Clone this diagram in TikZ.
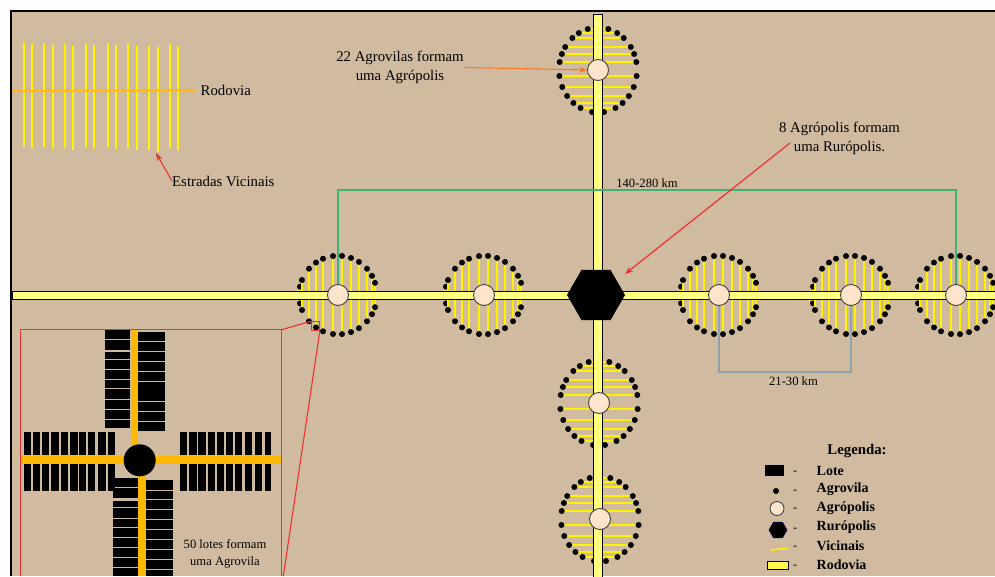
\documentclass[tikz,border=0pt]{standalone}
\usepackage{fontspec}
\setmainfont{Liberation Serif}
\usepackage{tikz}
\usetikzlibrary{arrows.meta,shapes.geometric}
\definecolor{terra}{HTML}{D1BBA0}
\definecolor{pista}{HTML}{FFFF80}
\definecolor{laranja}{HTML}{FFB900}
\definecolor{pele}{HTML}{FFE4CC}
\definecolor{verde}{HTML}{3CB371}
\definecolor{cinza}{HTML}{8FA3AD}
\definecolor{vermelho}{HTML}{F03030}

\begin{document}
\begin{tikzpicture}[
    x=1pt, y=-1pt,
    label/.style={font=\fontsize{14.8}{19}\selectfont, align=center, inner sep=0pt},
    small/.style={font=\fontsize{12.6}{17}\selectfont, align=center, inner sep=0pt},
    legenda/.style={font=\fontsize{14}{17}\selectfont\bfseries, anchor=west, inner sep=0pt},
    agropolis/.style={circle, draw=black!75, line width=0.9pt, fill=pele, minimum size=21, inner sep=0pt},
    ruropolis/.style={regular polygon, regular polygon sides=6, fill=black, inner sep=0pt},
    rodovia/.style={draw=black, line width=1pt, fill=pista},
    vicinal/.style={draw=yellow, line width=1.7pt},
    agrovila/.style={fill=black},
    lote/.style={fill=black},
    acesso/.style={fill=laranja},
    zoomline/.style={draw=vermelho, line width=1.1pt},
    >={Stealth[length=8,width=6]}
  ]
  \useasboundingbox (0,0) rectangle (995,576);
  \fill[white] (0,0) rectangle (995,576);
  \fill[terra] (12,12) rectangle (995,576);
  \draw[black, line width=2pt] (11,576) -- (11,11) -- (995,11);

  % vicinais e agrovilas
  \foreach \cx in {338,484,719,851,956} {
    \foreach \d in {-38,-36,-29,-22,-15,-5,4,13,21,29,34,37} {
      \pgfmathsetmacro\h{38.8*sqrt(1-(\d/38.8)^2)+0.5}
      \draw[vicinal] (\cx+\d,295-\h) -- (\cx+\d,295+\h);
      \fill[agrovila] (\cx+\d,295-\h) circle (3);
      \fill[agrovila] (\cx+\d,295+\h) circle (3);
    }
  }
  \foreach \cx/\cy in {598/70,599/403,600/519} {
    \foreach \d in {-41,-37,-32,-23,-16,-8,6,17,26,33,38,42} {
      \pgfmathsetmacro\h{39*sqrt(1-(\d/42.5)^2)}
      \draw[vicinal] (\cx-\h,\cy+\d) -- (\cx+\h,\cy+\d);
      \fill[agrovila] (\cx-\h,\cy+\d) circle (3);
      \fill[agrovila] (\cx+\h,\cy+\d) circle (3);
    }
  }

  % rodovias
  \draw[rodovia] (12,291) rectangle (995,299.5);
  \draw[rodovia] (593.5,14.5) rectangle (602.5,580);
  \fill[pista] (594,291.5) rectangle (602,299);

  \node[ruropolis, minimum size=58] (rur) at (596,295) {};
  \node[agropolis] (apA) at (338,295) {};
  \node[agropolis] (apB) at (484,295) {};
  \node[agropolis] (apC) at (719,295) {};
  \node[agropolis] (apD) at (851,295) {};
  \node[agropolis] (apE) at (956,295) {};
  \node[agropolis] (apTop) at (598,70) {};
  \node[agropolis] (apF) at (599,403) {};
  \node[agropolis] (apG) at (600,519) {};

  % distancias
  \coordinate (topoVerde) at (650,190);
  \coordinate (baseCinza) at (785,372);
  \draw[verde, line width=1.1pt] (apA) |- (topoVerde) -| (apE);
  \draw[cinza, line width=1.4pt] (apC) |- (baseCinza) -| (apD);
  \node[small] (dist1) at (647,183) {140-280 km};
  \node[small] (dist2) at (793.5,381) {21-30 km};

  % amostra de rodovia
  \foreach \vx/\vt/\vb in {24/42/146,32/44/148,44/43/147,53/45/149,65/44/148,73/46/150,86/43/147,94/45/149,108/43/147,116/45/149,128/44/148,137/46/150,149/46/150,158/47/152,170/44/148,178/46/150} {
    \draw[vicinal] (\vx,\vt) -- (\vx,\vb);
  }
  \node[label, anchor=west] (lblRod) at (200.5,90) {Rodovia};
  \coordinate (iniRod) at (12,91);
  \coordinate (fimRod) at (195,90);
  \draw[laranja, line width=1.6pt] (iniRod) -- (fimRod);
  \node[label, anchor=west] (lblEst) at (172,181) {Estradas Vicinais};
  \coordinate (tipEst) at (156,153);
  \draw[->, vermelho, line width=1.1pt] (lblEst.west) -- (tipEst);

  \node[label] (lblAgro) at (400,67.5) {22 Agrovilas formam\\uma Agrópolis};
  \draw[->, orange!75!red!85!white, line width=1.1pt] (lblAgro.east) -- (apTop.west);
  \node[label] (lblRur) at (839.5,138) {8 Agrópolis formam\\uma Rurópolis.};
  \coordinate (iniRur) at (790,143);
  \coordinate (tipRur) at (625,274);
  \draw[->, vermelho, line width=1.2pt] (iniRur) -- (tipRur);

  % detalhe da agrovila
  \fill[acesso] (131,330) rectangle (138,450);
  \fill[acesso] (21,456) rectangle (281,464);
  \fill[acesso] (138,470) rectangle (146,576);
  \foreach \a/\b in {330/339,340/350,352/359,360/369,370/379,380/388,389/399,400/409,410/419,420/428} {
    \fill[lote] (105,\a) rectangle (130,\b);
  }
  \foreach \a/\b in {332/341,342/351,352/361,362/371,372/381,382/401,402/411,412/421,422/431} {
    \fill[lote] (138,\a) rectangle (165,\b);
  }
  \foreach \a/\b in {24/31,33/40,42/49,51/59,61/68,70/78,79/86,88/95,98/106,108/115,180/187,189/197,198/206,208/215,217/224,226/233,235/242,245/252,255/262,265/271} {
    \fill[lote] (\a,432) rectangle (\b,455);
    \fill[lote] (\a,464) rectangle (\b,491);
  }
  \foreach \a/\b in {478/487,488/498,501/507,508/518,519/527,528/537,538/547,548/557,558/567,568/576} {
    \fill[lote] (113,\a) rectangle (138,\b);
  }
  \foreach \a/\b in {480/490,491/499,500/509,510/519,520/529,530/539,540/549,550/559,560/569,570/576} {
    \fill[lote] (146,\a) rectangle (172.5,\b);
  }
  \node[circle, fill=black, minimum size=32, inner sep=0pt] (centro) at (139.7,460.3) {};
  \node[small] (lblLote) at (225,553.5) {50 lotes formam\\uma Agrovila};

  \node[draw=vermelho, line width=1.1pt, minimum width=7.5, minimum height=9, inner sep=0pt] (dotBox) at (315.5,326.2) {};
  \coordinate (boxNE) at (281.7,329.7);
  \coordinate (boxBase) at (283.3,576);
  \draw[zoomline] (20.7,576) -- (20.7,329.7) -- (boxNE) -- (281.7,576);
  \draw[zoomline] (boxNE) -- (dotBox.north west);
  \draw[zoomline] (dotBox.south east) -- (boxBase);

  % legenda
  \node[font=\fontsize{14.8}{17}\selectfont\bfseries, inner sep=0pt] (legTitulo) at (857,451) {Legenda:};
  \node[fill=black, minimum width=19.5, minimum height=10.5, inner sep=0pt] (legLote) at (774.3,470.7) {};
  \node[circle, fill=black, minimum size=6, inner sep=0pt] (legVila) at (776,491) {};
  \node[agropolis, minimum size=14] (legPolis) at (777,508.5) {};
  \node[ruropolis, draw=blue!30!black, line width=0.6pt, minimum size=18] (legRur) at (778,530) {};
  \coordinate (legVicA) at (770.5,550);
  \coordinate (legVicB) at (788,548.5);
  \draw[vicinal] (legVicA) -- (legVicB);
  \node[draw=black, line width=0.8pt, fill=yellow!70!white, minimum width=20.5, minimum height=7.5, inner sep=0pt] (legRod) at (777.7,565.5) {};
  \foreach \ly/\ltext in {470.7/Lote,489.5/Agrovila,508/Agrópolis,527.5/Rurópolis,546/Vicinais,565/Rodovia} {
    \node[legenda] at (816.5,\ly) {\ltext};
    \node[small, font=\fontsize{12}{14}\selectfont] at (795,\ly+2) {-};
  }
\end{tikzpicture}
\end{document}
